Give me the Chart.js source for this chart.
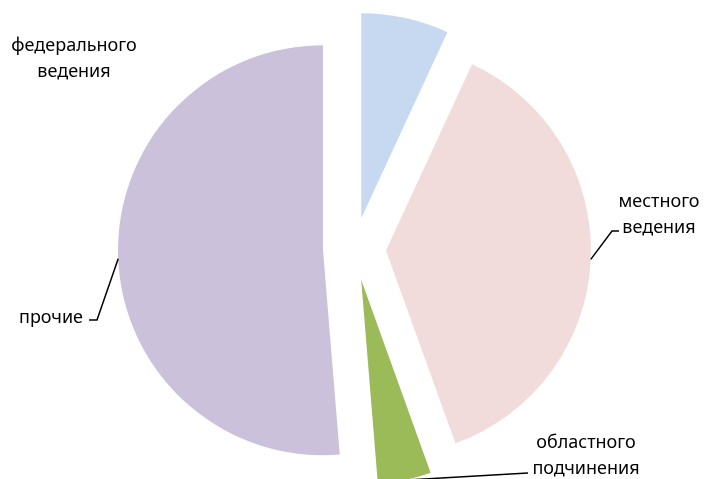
<!DOCTYPE html>
<html>
<head>
<meta charset="utf-8">
<script src="https://cdn.jsdelivr.net/npm/chart.js@4"></script>
<style>
  html, body { margin: 0; padding: 0; background: #fff; }
  #wrap { width: 704px; height: 479px; }
</style>
</head>
<body>
<div id="wrap"><canvas id="myChart" width="704" height="479"></canvas></div>
<script>
// данные диаграммы
const categories = [['федерального', 'ведения'], ['местного', 'ведения'], ['областного', 'подчинения'], ['прочие']];
const shares = [6.9, 37.6, 4.2, 51.3];
const colors = ['#c6d9f1', '#f2dcdb', '#9bbb59', '#ccc1da'];

const R = 205;        // радиус круга
const SHIFT = 31.5;   // вынос секторов, px
const FONT = '18px "Noto Sans"';

// где стоят подписи и изломы выносных линий
const labelPos = [
  {x: 74, y: 46, line: null},
  {x: 659, y: 202, line: [[612, 231], [619, 231]]},
  {x: 586, y: 443, line: [[528, 473]]},
  {x: 51, y: 318, line: [[97, 320], [89, 320]]}
];

// chart.js у вынесенных секторов увеличивает радиус и сужает угол - компенсируем
const sameRadius = {
  id: 'sameRadius',
  beforeDatasetsDraw(chart) {
    chart.getDatasetMeta(0).data.forEach(arc => {
      if (arc._baseStart === undefined) {
        arc._baseStart = arc.startAngle;
        arc._baseEnd = arc.endAngle;
      }
      const off = (arc.options.offset || 0) / 4;
      const fix = 1 - Math.sin(Math.min(Math.PI, arc.circumference));
      const ro = off * fix;
      arc.outerRadius = R - ro;
      const a = ro / Math.PI / R / 2;
      arc.startAngle = arc._baseStart - a;
      arc.endAngle = arc._baseEnd + a;
    });
  }
};

const pieLabels = {
  id: 'pieLabels',
  afterDatasetsDraw(chart) {
    const ctx = chart.ctx;
    ctx.save();
    ctx.font = FONT;
    ctx.fillStyle = '#000';
    ctx.strokeStyle = '#000';
    ctx.lineWidth = 1.5;
    ctx.textAlign = 'center';
    ctx.textBaseline = 'middle';
    chart.getDatasetMeta(0).data.forEach((arc, i) => {
      const p = labelPos[i];
      const mid = (arc.startAngle + arc.endAngle) / 2;
      if (p.line) {
        ctx.beginPath();
        ctx.moveTo(arc.x + Math.cos(mid) * (SHIFT + R), arc.y + Math.sin(mid) * (SHIFT + R));
        p.line.forEach(pt => ctx.lineTo(pt[0], pt[1]));
        ctx.stroke();
      }
      categories[i].forEach((t, k) => ctx.fillText(t, p.x, p.y + k * 26));
    });
    ctx.restore();
  }
};

var canvas = document.getElementById('myChart');
var ctx = canvas.getContext('2d');
var myPie = new Chart(ctx, {
  type: 'pie',
  data: {
    labels: categories.map(c => c.join(' ')),
    datasets: [{
      data: shares,
      backgroundColor: colors,
      borderWidth: 0,
      offset: SHIFT * 4,
      clip: false
    }]
  },
  options: {
    responsive: false,
    animation: false,
    radius: R,
    layout: {padding: {left: 5, right: 0, top: 19, bottom: 0}},
    plugins: {legend: {display: false}, tooltip: {enabled: false}}
  },
  plugins: [sameRadius, pieLabels]
});
</script>
</body>
</html>
